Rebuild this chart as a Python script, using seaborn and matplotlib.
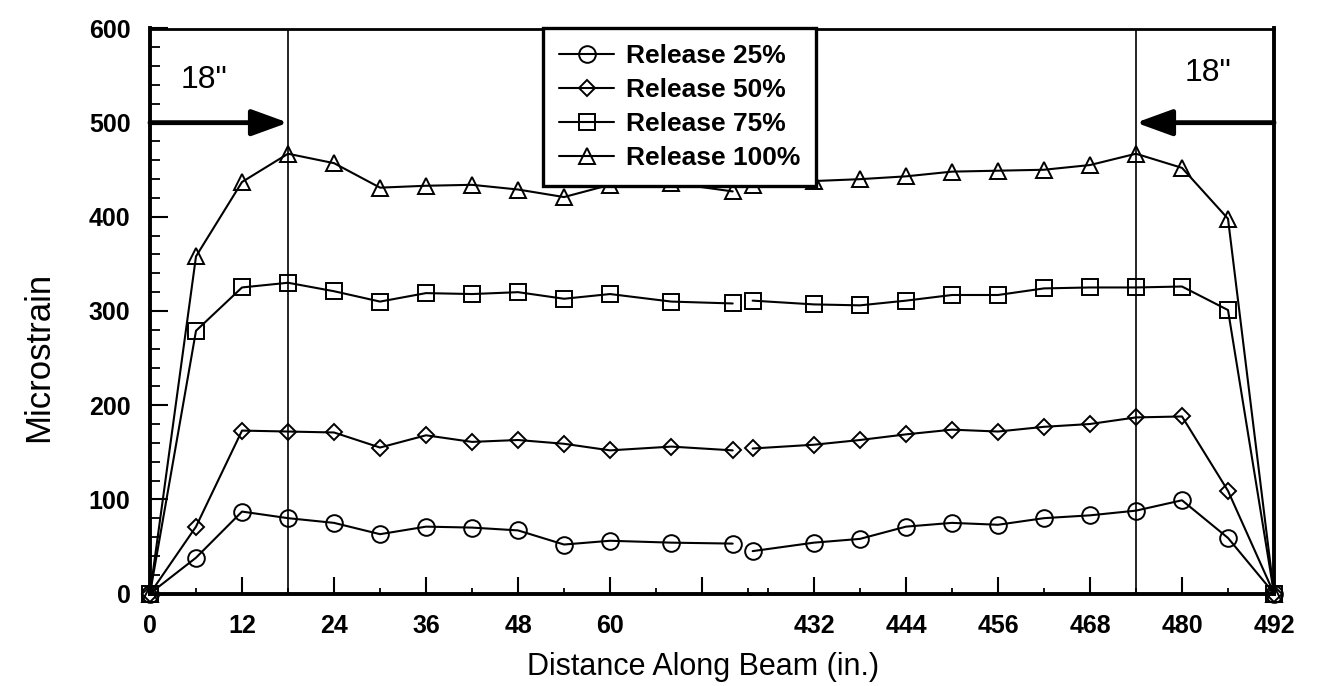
import matplotlib
matplotlib.use("Agg")
import matplotlib.pyplot as plt
from matplotlib.lines import Line2D
from matplotlib.ticker import FixedLocator, MultipleLocator
import pandas as pd
import seaborn as sns

# Gauge positions along the beam (in.), both ends of the beam
x_left = [0, 6, 12, 18, 24, 30, 36, 42, 48, 54, 60, 68, 76]
x_right = [424, 432, 438, 444, 450, 456, 462, 468, 474, 480, 486, 492]

series_names = ["Release 25%", "Release 50%", "Release 75%", "Release 100%"]

# Microstrain readings, left end
r25_left = [0, 38, 87, 80, 75, 63, 71, 70, 67, 52, 56, 54, 53]
r50_left = [0, 71, 173, 172, 171, 155, 168, 161, 163, 159, 152, 156, 152]
r75_left = [0, 279, 325, 330, 321, 310, 319, 318, 320, 313, 318, 310, 308]
r100_left = [0, 358, 437, 467, 457, 431, 433, 434, 429, 421, 434, 436, 427]

# Microstrain readings, right end
r25_right = [45, 54, 58, 71, 75, 73, 80, 83, 88, 99, 59, 0]
r50_right = [154, 158, 163, 169, 174, 172, 177, 180, 187, 188, 109, 0]
r75_right = [311, 307, 306, 311, 317, 317, 324, 325, 325, 326, 301, 0]
r100_right = [434, 438, 440, 443, 448, 449, 450, 455, 467, 452, 398, 0]

left_values = [r25_left, r50_left, r75_left, r100_left]
right_values = [r25_right, r50_right, r75_right, r100_right]
markers = ["o", "D", "s", "^"]
marker_sizes = [12, 8.2, 12, 11.5]

transfer_length = 18  # in., marked at both ends
beam_length = 492

sns.set_theme(style="white")
plt.rcParams["font.family"] = ["Liberation Sans", "DejaVu Sans"]
plt.rcParams["font.weight"] = "bold"
plt.rcParams["text.color"] = "black"
plt.rcParams["axes.labelcolor"] = "black"
plt.rcParams["xtick.color"] = "black"
plt.rcParams["ytick.color"] = "black"
plt.rcParams["axes.edgecolor"] = "black"

fig = plt.figure(figsize=(13.19, 6.86), dpi=100)
W, H = 1319, 686
ax_left_px, ax_right_px = 150, 1274
ax_top_px, ax_bot_px = 28.5, 593.5
left_lim = (0, 78.3)
right_lim = (423.7, 492)
span = (left_lim[1] - left_lim[0]) + (right_lim[1] - right_lim[0])
total_w = (ax_right_px - ax_left_px) / W
w_left = total_w * (left_lim[1] - left_lim[0]) / span
w_right = total_w - w_left
bottom = 1 - ax_bot_px / H
height = (ax_bot_px - ax_top_px) / H

axL = fig.add_axes([ax_left_px / W, bottom, w_left, height])
axR = fig.add_axes([ax_left_px / W + w_left, bottom, w_right, height], sharey=axL)

for ax, xs, vals in [(axL, x_left, left_values), (axR, x_right, right_values)]:
    for name, v, m, ms in zip(series_names, vals, markers, marker_sizes):
        df = pd.DataFrame({"x": xs, "y": v})
        sns.lineplot(data=df, x="x", y="y", ax=ax, color="black", lw=1.5,
                     marker=m, markersize=ms, markerfacecolor="none",
                     markeredgecolor="black", markeredgewidth=1.4,
                     clip_on=False, zorder=3)
    ax.set_xlabel("")
    ax.set_ylabel("")
    ax.set_facecolor("white")

axL.set_xlim(*left_lim)
axR.set_xlim(*right_lim)
axL.set_ylim(0, 600)

# spines
for ax in (axL, axR):
    for side in ("bottom", "left", "right"):
        ax.spines[side].set_linewidth(2.8)
        ax.spines[side].set_color("black")
    ax.spines["top"].set_linewidth(2.0)
    ax.spines["top"].set_color("black")
axL.spines["right"].set_visible(False)
axR.spines["left"].set_visible(False)

# x ticks
axL.xaxis.set_major_locator(FixedLocator([0, 12, 24, 36, 48, 60, 72]))
axL.set_xticklabels(["0", "12", "24", "36", "48", "60", ""])
axL.xaxis.set_minor_locator(MultipleLocator(6))
axR.xaxis.set_major_locator(FixedLocator([432, 444, 456, 468, 480, 492]))
axR.set_xticklabels(["432", "444", "456", "468", "480", "492"])
axR.xaxis.set_minor_locator(MultipleLocator(6))

# y ticks
axL.yaxis.set_major_locator(MultipleLocator(100))
axL.yaxis.set_minor_locator(MultipleLocator(20))

for ax in (axL, axR):
    ax.tick_params(axis="x", which="major", direction="in", length=12, width=1.5,
                   labelsize=18, pad=15, top=False, bottom=True, colors="black")
    ax.tick_params(axis="x", which="minor", direction="in", length=4.5, width=1.3,
                   top=False, bottom=True, colors="black")
axL.tick_params(axis="y", which="major", direction="in", length=13, width=1.5,
                labelsize=18, pad=14, left=True, right=False, colors="black")
axL.tick_params(axis="y", which="minor", direction="in", length=7, width=1.3,
                left=True, right=False, colors="black")
axR.tick_params(axis="y", which="both", left=False, right=False, labelleft=False)

# transfer length markers
axL.axvline(transfer_length, color="black", lw=1.2, zorder=2)
axR.axvline(beam_length - transfer_length, color="black", lw=1.2, zorder=2)

arrow_kw = dict(arrowstyle="-|>,head_length=1.1,head_width=0.4", lw=3.5,
                color="black", shrinkA=0, shrinkB=0, mutation_scale=20)
axL.annotate("", xy=(transfer_length, 500), xytext=(0, 500),
             arrowprops=arrow_kw, annotation_clip=False)
axR.annotate("", xy=(beam_length - transfer_length, 500), xytext=(beam_length, 500),
             arrowprops=arrow_kw, annotation_clip=False)
axL.text(7.0, 545, '18"', fontsize=23, fontweight="normal", ha="center", va="center",
         color="black")
axR.text(483.4, 553, '18"', fontsize=23, fontweight="normal", ha="center", va="center",
         color="black")

# axis titles
fig.text(703 / W, 1 - 675 / H, "Distance Along Beam (in.)", fontsize=22,
         fontweight="normal", ha="center", va="baseline", color="black")
fig.text(39 / W, 1 - 357 / H, "Microstrain", fontsize=25, fontweight="normal",
         rotation=90, ha="center", va="center", color="black")

# legend
handles = [Line2D([], [], color="black", lw=1.5, marker=m, markersize=ms,
                  markerfacecolor="none", markeredgecolor="black", markeredgewidth=1.4)
           for m, ms in zip(markers, marker_sizes)]
leg = fig.legend(handles, series_names, loc="upper left",
                 bbox_to_anchor=(543 / W, 1 - 28 / H), borderaxespad=0,
                 fontsize=19, frameon=True, fancybox=False, framealpha=1,
                 edgecolor="black", handlelength=2.1, handletextpad=0.45,
                 labelspacing=0.38, borderpad=0.6, numpoints=1)
leg.get_frame().set_linewidth(2.4)
for t in leg.get_texts():
    t.set_fontweight("bold")
    t.set_color("black")

fig.savefig("out.png", dpi=100, facecolor="white")
